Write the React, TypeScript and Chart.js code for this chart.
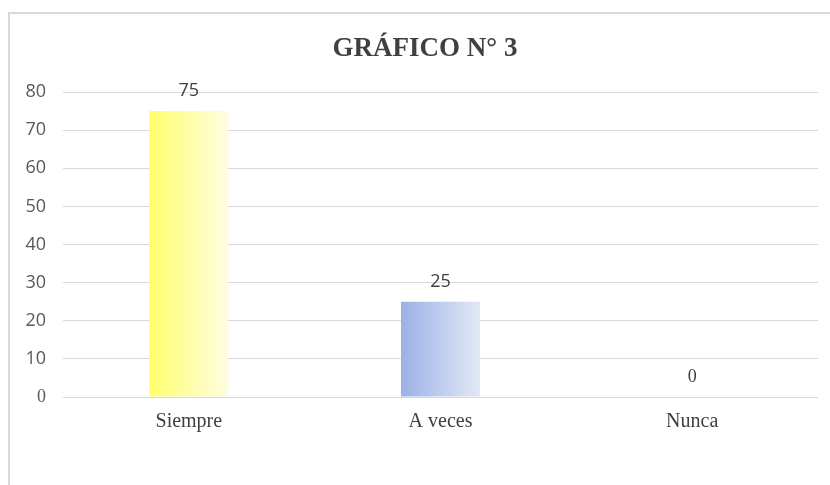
import React, { useEffect, useRef } from "react";
import { Chart, registerables } from "chart.js";

Chart.register(...registerables);

const categories = ["Siempre", "A veces", "Nunca"];
const values = [75, 25, 0];
const yTicks = [0, 10, 20, 30, 40, 50, 60, 70, 80];
const titleText = "GRÁFICO N° 3";
const gradientStops = [
  ["#ffff6e", "#fffde2"],
  ["#9bb2e5", "#e1e7f6"],
  ["#cccccc", "#eeeeee"],
];

const SANS = "'Open Sans', 'Noto Sans', sans-serif";
const SERIF = "'Liberation Serif', 'Times New Roman', serif";

const dataLabelPlugin = {
  id: "dataLabels",
  afterDatasetsDraw(chart: any) {
    const ctx = chart.ctx;
    const meta = chart.getDatasetMeta(0);
    ctx.save();
    ctx.textAlign = "center";
    ctx.textBaseline = "middle";
    ctx.fillStyle = "#404040";
    meta.data.forEach((el: any, i: number) => {
      const v = values[i];
      ctx.font = v === 0 ? `18px ${SERIF}` : `18px ${SANS}`;
      ctx.fillText(String(v), el.x, el.y - 20);
    });
    ctx.restore();
  },
};

const titlePlugin = {
  id: "customTitle",
  afterDraw(chart: any) {
    const ctx = chart.ctx;
    const a = chart.chartArea;
    ctx.save();
    ctx.textAlign = "center";
    ctx.textBaseline = "middle";
    ctx.fillStyle = "#404040";
    ctx.font = `bold 27px ${SERIF}`;
    ctx.fillText(titleText, (a.left + a.right) / 2 - 15.5, a.top - 43);
    ctx.restore();
  },
};

export default function App() {
  const ref = useRef<HTMLCanvasElement>(null);
  useEffect(() => {
    if (!ref.current) return;
    const chart = new Chart(ref.current, {
      type: "bar",
      data: {
        labels: categories,
        datasets: [
          {
            data: values,
            barPercentage: 0.314,
            categoryPercentage: 1,
            borderWidth: 0,
            backgroundColor: (c: any) => {
              const ch = c.chart;
              const i = c.dataIndex ?? 0;
              const stops = gradientStops[i % gradientStops.length];
              const area = ch.chartArea;
              const xs = ch.scales?.x;
              if (!area || !xs) return stops[0];
              const cx = xs.getPixelForValue(i);
              const w = ((area.right - area.left) / categories.length) * 0.314;
              const g = ch.ctx.createLinearGradient(cx - w / 2, 0, cx + w / 2, 0);
              g.addColorStop(0, stops[0]);
              g.addColorStop(1, stops[1]);
              return g;
            },
          },
        ],
      },
      options: {
        responsive: false,
        animation: false,
        layout: { padding: { top: 92, left: 0, right: 12, bottom: 0 } },
        plugins: {
          legend: { display: false },
          tooltip: { enabled: false },
          title: { display: false },
        },
        scales: {
          x: {
            grid: { display: false, drawTicks: false },
            border: { display: false },
            ticks: {
              color: "#404040",
              font: { family: SERIF, size: 20, lineHeight: 1.2 },
              padding: 13,
            },
            afterFit: (a: any) => {
              a.height = 88;
            },
          },
          y: {
            min: 0,
            max: 80,
            afterBuildTicks: (a: any) => {
              a.ticks = yTicks.map((v) => ({ value: v }));
            },
            grid: { color: "#d9d9d9", lineWidth: 1, drawTicks: false },
            border: { display: false },
            ticks: {
              color: "#595959",
              padding: 17,
              font: (c: any) =>
                c.tick && c.tick.value === 0
                  ? { family: SERIF, size: 18 }
                  : { family: SANS, size: 18 },
            },
            afterFit: (a: any) => {
              a.width = 63;
            },
          },
        },
      },
      plugins: [dataLabelPlugin, titlePlugin],
    });
    return () => chart.destroy();
  }, []);

  return (
    <div style={{ position: "absolute", left: 0, top: 0, width: 830, height: 485, background: "#fff", overflow: "hidden" }}>
      <div
        style={{
          position: "absolute",
          left: 8,
          top: 12,
          width: 840,
          height: 500,
          borderLeft: "2px solid #d9d9d9",
          borderTop: "2px solid #d9d9d9",
          boxSizing: "border-box",
        }}
      />
      <canvas ref={ref} width={830} height={485} style={{ position: "absolute", left: 0, top: 0 }} />
    </div>
  );
}
